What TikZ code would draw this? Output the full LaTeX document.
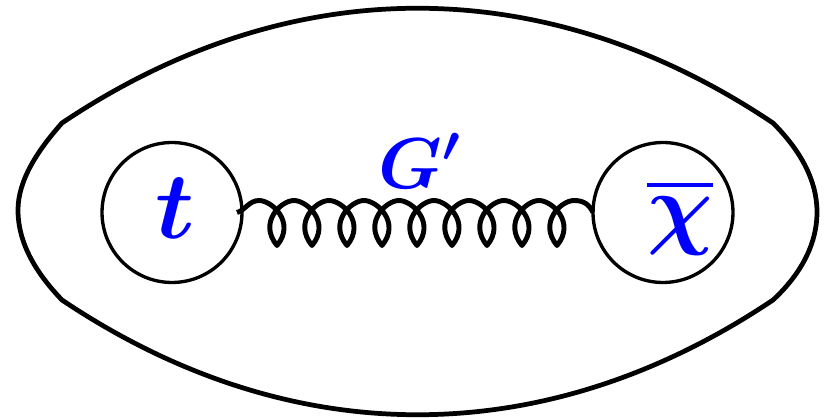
\documentclass[tikz,border=0pt]{standalone}
\usepackage{fix-cm}
\usepackage{xcolor}
\usetikzlibrary{positioning,calc}
\definecolor{Ink}{HTML}{000000}
\definecolor{Quark}{HTML}{0000FF}
\newcommand{\bigsym}[2]{{\fontsize{#1}{#1}\selectfont\boldmath$#2$}}
\newcommand{\placed}[3]{\makebox[0pt]{\hspace{#1}\raisebox{#2}[0pt][0pt]{#3}}}
\tikzset{
  blob/.style={draw=Ink,line width=2.7pt,line join=round},
  particle/.style={circle,draw=Ink,line width=1.9pt,minimum size=2.8cm,inner sep=0pt,outer sep=0pt,text=Quark},
  gluon/.style={draw=Ink,line width=2.8pt,line join=round},
  lbl/.style={text=Quark,inner sep=0pt}
}
\begin{document}
\begin{tikzpicture}[x=0.02cm,y=-0.02cm]
  \useasboundingbox (0,0) rectangle (829,418);
  % outer envelope
  \draw[blob] (62,123) .. controls (290,-30) and (545,-30) .. (773,123)
    .. controls (800,150) and (817,180) .. (817,212)
    .. controls (817,245) and (800,275) .. (773,300)
    .. controls (545,453) and (290,453) .. (62,300)
    .. controls (38,275) and (18,245) .. (18,210)
    .. controls (18,180) and (38,150) .. (62,123) -- cycle;
  % the two end states
  \node[particle] (top) at (172,212.5) {\placed{0.12cm}{-0.53cm}{\bigsym{54}{t}}};
  \node[particle] (chi) at (663,212.5) {\placed{0.68cm}{-0.51cm}{\bigsym{52}{\chi}}\placed{0.68cm}{0.51cm}{\rule{1.32cm}{0.08cm}}};
  % coil between them
  \coordinate (c0) at ($(top.east)+(17,-12)$);
  \draw[gluon] ($(top.east)+(-5,0)$) .. controls +(8,-2) and +(-10,0) .. (c0)
    \foreach \i in {1,...,9} {
      .. controls +(13,0) and +(19,-23) .. ++(18,45)
      .. controls +(-19,-23) and +(-13,0) .. ++(17,-45)
    }
    .. controls +(10,0) and +(-4,-8) .. (chi.west);
  \node[lbl] (gp) at (420,161) {\bigsym{41}{G'}};
\end{tikzpicture}
\end{document}
